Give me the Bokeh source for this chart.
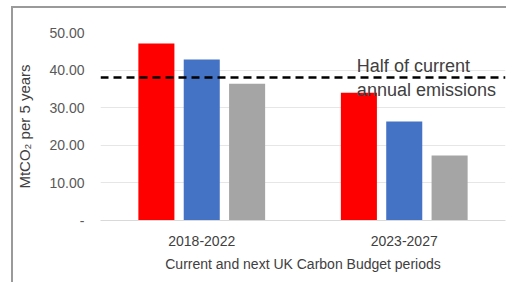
from bokeh.plotting import figure
from bokeh.models import FixedTicker, ColumnDataSource
from bokeh.core.properties import value
from bokeh.embed import file_html
from bokeh.resources import INLINE

# ---- data ----
periods = ["2018-2022", "2023-2027"]
series_red = [47.1, 34.0]
series_blue = [42.8, 26.3]
series_gray = [36.4, 17.3]
half_current = 38.0
y_ticks = [0, 10, 20, 30, 40, 50]
y_tick_labels = ["-", "10.00", "20.00", "30.00", "40.00", "50.00"]
annotation_lines = ["Half of current", "annual emissions"]
annotation_y = [41.2, 34.8]
annotation_x = 1.766

FONT = "Liberation Sans"

p = figure(width=495, height=276, output_backend="svg", toolbar_location=None,
           x_range=(0.5, 2.5), y_range=(0, 50),
           min_border_left=87, min_border_right=3, min_border_top=24, min_border_bottom=64)
p.styles = {"border-top": "2px solid #9a9a9a", "border-left": "2px solid #9a9a9a",
            "margin-left": "11px", "margin-top": "6px"}
p.outline_line_color = None
p.background_fill_color = "white"
p.border_fill_color = "white"

xs = [i + 1 for i in range(len(periods))]
offsets = [-0.224, 0.0, 0.224]
colors = ["#FF0000", "#4472C4", "#A5A5A5"]
for vals, off, col in zip([series_red, series_blue, series_gray], offsets, colors):
    src = ColumnDataSource(dict(x=[x + off for x in xs], top=vals))
    p.vbar(x="x", top="top", bottom=0, width=0.178, source=src, fill_color=col, line_color=None)

# dashed reference line
p.line(x=[0.5, 2.5], y=[half_current, half_current], line_color="black",
       line_width=2.5, line_dash="8 5")

# annotation text
for txt, yy in zip(annotation_lines, annotation_y):
    p.text(x=[annotation_x], y=[yy], text=[txt], text_font=value(FONT),
           text_font_size="18px", text_color="#404040", text_baseline="middle",
           text_align="left")

# grid
p.xgrid.grid_line_color = None
p.ygrid.grid_line_color = "#e6e6e6"
p.ygrid.grid_line_width = 1
p.ygrid.ticker = FixedTicker(ticks=y_ticks)

# y axis
p.yaxis.ticker = FixedTicker(ticks=y_ticks)
p.yaxis.major_label_overrides = {t: l for t, l in zip(y_ticks, y_tick_labels)}
p.yaxis.axis_line_color = None
p.yaxis.major_tick_line_color = None
p.yaxis.minor_tick_line_color = None
p.yaxis.major_tick_out = 0
p.yaxis.major_tick_in = 0
p.yaxis.minor_tick_out = 0
p.yaxis.minor_tick_in = 0
p.yaxis.major_label_standoff = 16
p.yaxis.major_label_text_font = FONT
p.yaxis.major_label_text_font_size = "14px"
p.yaxis.major_label_text_color = "#595959"
p.yaxis.axis_label = "MtCO₂ per 5 years"
p.yaxis.axis_label_text_font = FONT
p.yaxis.axis_label_text_font_size = "15px"
p.yaxis.axis_label_text_font_style = "normal"
p.yaxis.axis_label_text_color = "#404040"
p.yaxis.axis_label_standoff = 13

# x axis
p.xaxis.ticker = FixedTicker(ticks=xs)
p.xaxis.major_label_overrides = {x: c for x, c in zip(xs, periods)}
p.xaxis.axis_line_color = "#d9d9d9"
p.xaxis.major_tick_line_color = None
p.xaxis.minor_tick_line_color = None
p.xaxis.major_tick_out = 0
p.xaxis.major_tick_in = 0
p.xaxis.minor_tick_out = 0
p.xaxis.minor_tick_in = 0
p.xaxis.major_label_standoff = 15
p.xaxis.major_label_text_font = FONT
p.xaxis.major_label_text_font_size = "14px"
p.xaxis.major_label_text_color = "#404040"
p.xaxis.axis_label = "Current and next UK Carbon Budget periods"
p.xaxis.axis_label_text_font = FONT
p.xaxis.axis_label_text_font_size = "14px"
p.xaxis.axis_label_text_font_style = "normal"
p.xaxis.axis_label_text_color = "#404040"
p.xaxis.axis_label_standoff = 7

open("out.html", "w").write(file_html(p, INLINE))
